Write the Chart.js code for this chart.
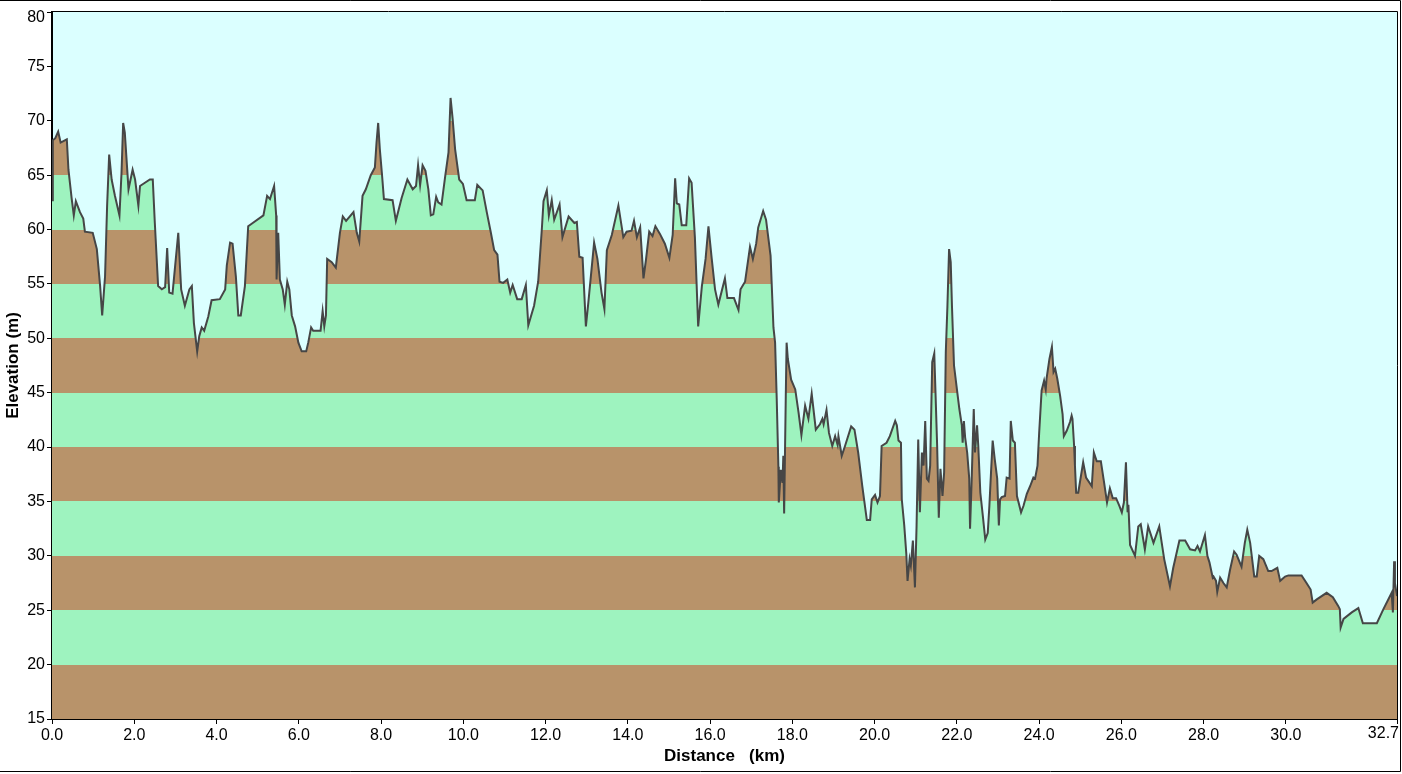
<!DOCTYPE html>
<html>
<head>
<meta charset="utf-8">
<title>Elevation profile</title>
<script src="https://cdn.jsdelivr.net/npm/chart.js@4.4.1/dist/chart.umd.min.js"></script>
<style>
  html, body { margin: 0; padding: 0; background: #ffffff; }
  #wrap { width: 1402px; height: 774px; position: relative; }
</style>
</head>
<body>
<div id="wrap"><canvas id="profileChart" width="1402" height="774"></canvas></div>
<script>
// distance along the route (km) and elevation (m)
const distKm = [
  0.00, 0.02, 0.08, 0.15, 0.21, 0.36, 0.40, 0.48, 0.53, 0.58, 0.68, 0.76, 0.80, 0.99, 1.09, 1.17, 1.22, 1.29, 1.34, 1.39,
  1.45, 1.53, 1.64, 1.69, 1.73, 1.77, 1.86, 1.96, 2.02, 2.10, 2.14, 2.38, 2.45, 2.50, 2.58, 2.67, 2.75, 2.80, 2.85, 2.93,
  3.01, 3.07, 3.14, 3.23, 3.34, 3.40, 3.45, 3.53, 3.58, 3.64, 3.70, 3.80, 3.88, 4.08, 4.21, 4.25, 4.33, 4.39, 4.47, 4.53,
  4.59, 4.69, 4.77, 4.88, 5.14, 5.23, 5.30, 5.40, 5.45, 5.46, 5.50, 5.54, 5.61, 5.66, 5.72, 5.77, 5.83, 5.91, 5.99, 6.07,
  6.18, 6.23, 6.30, 6.35, 6.53, 6.58, 6.62, 6.66, 6.69, 6.80, 6.90, 7.00, 7.07, 7.15, 7.33, 7.41, 7.47, 7.55, 7.63, 7.75,
  7.85, 7.89, 7.93, 7.97, 8.02, 8.07, 8.28, 8.36, 8.50, 8.64, 8.77, 8.85, 8.90, 8.95, 9.01, 9.08, 9.15, 9.21, 9.27, 9.34,
  9.39, 9.47, 9.56, 9.64, 9.69, 9.74, 9.80, 9.90, 9.99, 10.08, 10.28, 10.34, 10.47, 10.57, 10.67, 10.75, 10.83, 10.88, 10.97, 11.07,
  11.14, 11.20, 11.31, 11.42, 11.52, 11.58, 11.72, 11.82, 11.91, 11.95, 12.03, 12.08, 12.15, 12.21, 12.34, 12.41, 12.56, 12.70, 12.76, 12.82,
  12.90, 12.98, 13.04, 13.18, 13.26, 13.36, 13.43, 13.49, 13.61, 13.77, 13.89, 13.97, 14.09, 14.15, 14.22, 14.30, 14.38, 14.44, 14.52, 14.60,
  14.67, 14.78, 14.90, 15.01, 15.09, 15.15, 15.19, 15.25, 15.31, 15.42, 15.49, 15.55, 15.63, 15.71, 15.80, 15.89, 15.96, 16.04, 16.12, 16.20,
  16.36, 16.42, 16.58, 16.69, 16.74, 16.85, 16.97, 17.04, 17.12, 17.17, 17.29, 17.36, 17.47, 17.54, 17.58, 17.62, 17.66, 17.67, 17.72, 17.76,
  17.78, 17.80, 17.84, 17.86, 17.89, 17.97, 18.07, 18.15, 18.22, 18.31, 18.39, 18.47, 18.57, 18.67, 18.73, 18.76, 18.83, 18.89, 18.97, 19.04,
  19.10, 19.12, 19.20, 19.28, 19.43, 19.51, 19.60, 19.70, 19.81, 19.89, 19.93, 20.01, 20.07, 20.13, 20.17, 20.29, 20.37, 20.50, 20.54, 20.58,
  20.64, 20.66, 20.72, 20.77, 20.80, 20.85, 20.88, 20.93, 20.98, 21.02, 21.06, 21.10, 21.15, 21.19, 21.23, 21.27, 21.31, 21.35, 21.40, 21.45,
  21.48, 21.52, 21.56, 21.60, 21.65, 21.69, 21.73, 21.77, 21.81, 21.85, 21.88, 21.93, 22.02, 22.06, 22.12, 22.14, 22.17, 22.20, 22.25, 22.30,
  22.32, 22.36, 22.41, 22.44, 22.49, 22.52, 22.57, 22.63, 22.69, 22.75, 22.79, 22.83, 22.87, 22.92, 22.98, 23.02, 23.05, 23.09, 23.17, 23.21,
  23.28, 23.31, 23.36, 23.41, 23.46, 23.56, 23.62, 23.70, 23.78, 23.86, 23.90, 23.96, 24.00, 24.06, 24.12, 24.16, 24.18, 24.25, 24.31, 24.35,
  24.39, 24.44, 24.51, 24.57, 24.60, 24.67, 24.75, 24.79, 24.81, 24.85, 24.87, 24.90, 24.95, 25.07, 25.14, 25.28, 25.33, 25.40, 25.50, 25.58,
  25.65, 25.72, 25.79, 25.87, 25.95, 26.01, 26.06, 26.11, 26.15, 26.17, 26.21, 26.33, 26.41, 26.47, 26.57, 26.65, 26.78, 26.92, 26.98, 27.04,
  27.18, 27.26, 27.41, 27.55, 27.67, 27.79, 27.85, 27.91, 27.95, 28.03, 28.09, 28.14, 28.22, 28.24, 28.30, 28.33, 28.40, 28.48, 28.56, 28.64,
  28.74, 28.80, 28.92, 29.00, 29.06, 29.13, 29.23, 29.29, 29.35, 29.45, 29.57, 29.65, 29.79, 29.86, 29.98, 30.06, 30.38, 30.50, 30.60, 30.65,
  30.75, 30.99, 31.14, 31.27, 31.31, 31.33, 31.40, 31.60, 31.76, 31.87, 32.21, 32.37, 32.57, 32.60, 32.63, 32.65, 32.70
];
const elevM = [
  62.7, 68.2, 68.4, 69.0, 68.0, 68.3, 65.5, 62.8, 61.3, 62.6, 61.6, 61.0, 59.8, 59.7, 58.2, 54.8, 52.1, 55.7, 62.2, 66.9,
  64.6, 63.1, 61.3, 65.2, 69.8, 68.9, 63.7, 65.5, 64.6, 62.2, 64.0, 64.6, 64.6, 60.6, 54.8, 54.5, 54.7, 58.3, 54.2, 54.1,
  57.3, 59.7, 54.5, 53.0, 54.5, 54.8, 51.4, 48.8, 50.2, 51.0, 50.7, 52.0, 53.5, 53.6, 54.5, 56.7, 58.8, 58.7, 55.7, 52.1,
  52.1, 54.8, 60.3, 60.6, 61.3, 63.1, 62.8, 64.0, 61.3, 55.4, 59.7, 55.4, 54.5, 53.1, 55.2, 54.5, 52.1, 51.1, 49.6, 48.8,
  48.8, 49.6, 51.0, 50.7, 50.7, 52.5, 51.1, 52.1, 57.3, 57.0, 56.5, 59.7, 61.2, 60.8, 61.6, 59.7, 58.9, 63.1, 63.7, 65.0,
  65.7, 68.0, 69.8, 67.4, 65.2, 62.8, 62.7, 60.8, 62.9, 64.6, 63.7, 64.0, 65.9, 64.1, 65.9, 65.4, 63.7, 61.3, 61.4, 63.0,
  62.5, 62.3, 64.9, 67.1, 72.1, 70.2, 67.4, 64.6, 64.2, 62.7, 62.7, 64.1, 63.6, 61.6, 59.7, 58.1, 57.7, 55.2, 55.1, 55.4,
  54.2, 54.9, 53.6, 53.6, 54.9, 51.2, 53.0, 55.2, 60.1, 62.6, 63.6, 61.3, 62.7, 60.9, 62.3, 59.3, 61.2, 60.6, 60.7, 57.5,
  57.4, 51.1, 53.3, 58.8, 57.3, 54.2, 52.7, 58.1, 59.5, 62.2, 59.3, 59.8, 59.9, 60.8, 59.3, 60.2, 55.5, 57.2, 59.8, 59.4,
  60.3, 59.6, 58.7, 57.4, 59.5, 64.7, 62.4, 62.3, 60.4, 60.4, 64.7, 64.3, 59.3, 51.1, 54.8, 57.3, 60.3, 57.3, 54.5, 53.1,
  55.5, 53.7, 53.7, 52.6, 54.5, 55.2, 58.4, 57.3, 58.7, 60.2, 61.7, 60.9, 57.6, 51.0, 49.6, 44.4, 38.2, 34.9, 37.9, 36.7,
  39.2, 33.9, 44.7, 49.6, 48.1, 46.2, 45.3, 43.2, 41.1, 43.8, 42.6, 44.9, 41.6, 42.1, 42.6, 42.1, 43.4, 41.3, 40.1, 41.0,
  40.2, 41.0, 39.2, 40.1, 41.9, 41.6, 39.5, 36.4, 33.3, 33.3, 35.2, 35.6, 34.9, 35.5, 40.1, 40.4, 41.0, 42.4, 42.0, 40.6,
  40.4, 35.2, 32.8, 30.2, 27.7, 29.7, 29.1, 31.4, 27.1, 32.8, 40.7, 34.0, 39.5, 38.3, 42.4, 37.1, 36.9, 38.3, 47.8, 48.6,
  45.0, 40.1, 33.5, 38.0, 35.5, 37.7, 48.7, 53.0, 58.2, 57.0, 53.0, 47.5, 44.7, 43.5, 42.0, 40.4, 42.4, 40.9, 39.5, 37.1,
  32.5, 37.1, 43.5, 39.5, 42.0, 40.1, 35.8, 33.7, 31.5, 32.1, 34.6, 37.7, 40.6, 38.9, 37.1, 32.8, 35.2, 35.4, 35.5, 37.2,
  37.1, 42.4, 40.6, 40.4, 35.5, 34.0, 34.6, 35.7, 36.4, 37.2, 37.1, 38.3, 41.3, 45.2, 46.1, 45.3, 46.3, 48.1, 49.2, 46.9,
  47.2, 46.3, 44.7, 43.0, 41.0, 41.5, 42.3, 42.9, 42.6, 40.1, 38.3, 35.8, 35.8, 38.6, 37.2, 36.4, 39.5, 38.7, 38.7, 36.7,
  34.9, 36.2, 35.3, 35.3, 34.6, 34.0, 34.9, 38.6, 34.0, 34.7, 31.0, 30.0, 32.7, 32.9, 30.6, 32.7, 31.2, 32.7, 31.2, 29.7,
  27.2, 28.9, 31.4, 31.4, 30.6, 30.5, 30.9, 30.4, 30.9, 31.9, 30.0, 29.4, 28.0, 28.1, 27.7, 26.7, 28.0, 27.5, 27.1, 28.7,
  30.4, 30.1, 29.0, 31.2, 32.4, 31.2, 28.1, 28.1, 30.0, 29.7, 28.6, 28.6, 28.9, 27.7, 28.1, 28.2, 28.2, 27.5, 26.9, 25.7,
  26.0, 26.6, 26.2, 25.4, 25.1, 23.4, 24.2, 24.8, 25.2, 23.8, 23.8, 25.1, 26.6, 24.8, 29.5, 27.5, 26.3
];
// tick labels on the distance axis
const distTicks = [0, 2, 4, 6, 8, 10, 12, 14, 16, 18, 20, 22, 24, 26, 28, 30, 32.7];

const yMin = 15, yMax = 80, bandStep = 5;
const xMax = 32.7;
const brown = "#b8936a";
const green = "#9ef3bf";
const sky = "#dbffff";
const fontFamily = "'Liberation Sans', Arial, sans-serif";

document.addEventListener("DOMContentLoaded", function () {
    const canvas = document.getElementById("profileChart");
    const ctx = canvas.getContext("2d");

    // alternating 5 m bands under the profile
    function bandFill(context) {
        const chart = context.chart;
        if (!chart.chartArea || !chart.scales.y) return brown;
        const y = chart.scales.y;
        const g = chart.ctx.createLinearGradient(0, y.getPixelForValue(yMin), 0, y.getPixelForValue(yMax));
        for (let v = yMin, i = 0; v < yMax; v += bandStep, i++) {
            const c = i % 2 === 0 ? brown : green;
            g.addColorStop((v - yMin) / (yMax - yMin), c);
            g.addColorStop(Math.min(1, (v + bandStep - yMin) / (yMax - yMin)), c);
        }
        return g;
    }

    const plotFrame = {
        id: "plotFrame",
        beforeDraw(chart) {
            const a = chart.chartArea;
            const c = chart.ctx;
            c.save();
            c.fillStyle = sky;
            c.fillRect(a.left, a.top, a.right - a.left, a.bottom - a.top);
            c.restore();
        },
        afterDraw(chart) {
            const a = chart.chartArea;
            const c = chart.ctx;
            const xs = chart.scales.x, ys = chart.scales.y;
            c.save();
            c.strokeStyle = "#000";
            c.lineWidth = 1;
            c.beginPath();
            c.moveTo(a.left, a.top - 0.5);
            c.lineTo(a.right + 0.5, a.top - 0.5);
            c.lineTo(a.right + 0.5, a.bottom);
            c.stroke();
            // outer picture frame
            c.beginPath();
            c.moveTo(0, 0.5);
            c.lineTo(1400.5, 0.5);
            c.lineTo(1400.5, 771.5);
            c.lineTo(0, 771.5);
            c.stroke();

            // end labels kept inside the picture, as in the original
            c.fillStyle = "#000";
            c.font = "16px " + fontFamily;
            c.textAlign = "right";
            c.textBaseline = "top";
            c.fillText(xMax.toFixed(1), xs.getPixelForValue(xMax) + 2, xs.top + 7);
            c.textBaseline = "middle";
            c.fillText(String(yMax), ys.right - 7, ys.getPixelForValue(yMax) + 6);
            c.restore();
        }
    };

    const tickFont = { family: fontFamily, size: 16 };
    const titleFont = { family: fontFamily, size: 17, weight: "bold" };

    new Chart(ctx, {
        type: "line",
        data: {
            datasets: [{
                label: "Elevation",
                data: distKm.map((d, i) => ({ x: d, y: elevM[i] })),
                borderColor: "#464646",
                borderWidth: 2,
                pointRadius: 0,
                tension: 0,
                fill: "start",
                backgroundColor: bandFill
            }]
        },
        options: {
            responsive: false,
            devicePixelRatio: 1,
            animation: false,
            layout: { padding: { left: 0, top: 12, right: 5, bottom: 0 } },
            plugins: {
                legend: { display: false },
                tooltip: { enabled: false }
            },
            scales: {
                x: {
                    type: "linear",
                    min: 0,
                    max: xMax,
                    afterBuildTicks: function (scale) {
                        scale.ticks = distTicks.map(v => ({ value: v }));
                    },
                    afterFit: function (scale) {
                        scale.height = 55;
                        scale.paddingLeft = 0;
                        scale.paddingRight = 0;
                    },
                    ticks: {
                        autoSkip: false,
                        maxRotation: 0,
                        color: "#000",
                        padding: 2,
                        font: tickFont,
                        callback: v => (v === xMax ? "" : Number(v).toFixed(1))
                    },
                    grid: { drawOnChartArea: false, drawTicks: true, tickLength: 5, color: "#000" },
                    border: { display: true, color: "#000", width: 2 },
                    title: {
                        display: true,
                        text: "Distance   (km)",
                        color: "#000",
                        font: titleFont,
                        padding: { top: 0, bottom: 7 }
                    }
                },
                y: {
                    min: yMin,
                    max: yMax,
                    afterFit: function (scale) {
                        scale.width = 52;
                        scale.paddingTop = 0;
                        scale.paddingBottom = 0;
                    },
                    ticks: {
                        stepSize: 5,
                        color: "#000",
                        padding: 2,
                        font: tickFont,
                        callback: v => (v === yMax ? "" : String(v))
                    },
                    grid: { drawOnChartArea: false, drawTicks: true, tickLength: 5, color: "#000" },
                    border: { display: true, color: "#000", width: 2 },
                    title: {
                        display: true,
                        text: "Elevation (m)",
                        color: "#000",
                        font: titleFont,
                        padding: { top: 3, bottom: 0 }
                    }
                }
            }
        },
        plugins: [plotFrame]
    });
});
</script>
</body>
</html>
